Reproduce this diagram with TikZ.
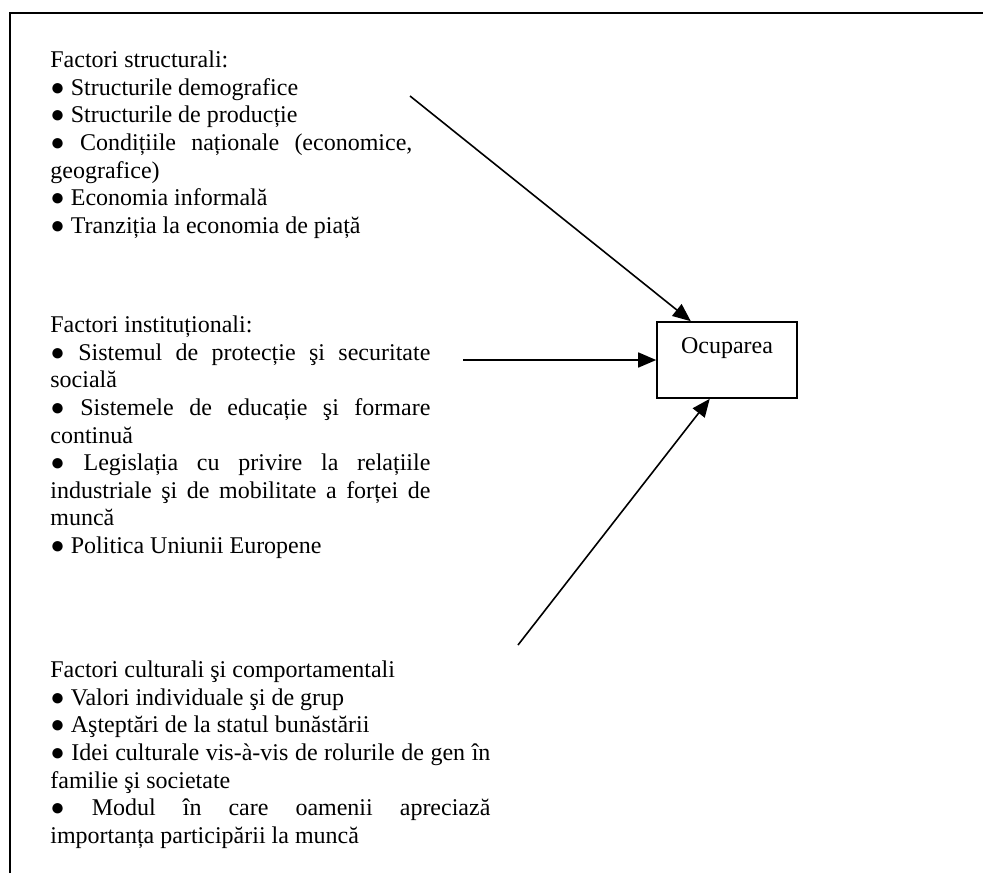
\documentclass[tikz,border=0pt]{standalone}
\usepackage{fontspec}
\setmainfont{Liberation Serif}
\usetikzlibrary{arrows.meta}

\tikzset{
  txt/.style={font={\fontsize{12}{13.8}\selectfont}},
  factori/.style={anchor=north west,inner sep=0pt,align=justify,
    font={\fontsize{12}{13.8}\selectfont\parindent=0pt\tolerance=10000\hyphenpenalty=10000}},
  arr/.style={-{Triangle[length=9pt,width=7.5pt]},line width=0.8pt}
}

\begin{document}
\begin{tikzpicture}[x=0.5pt,y=-0.5pt]
  \useasboundingbox (0,0) rectangle (983,873);
  % open frame, top and left side only
  \draw[line width=1.1pt] (10,873) -- (10,13) -- (983,13);

  \node[factori,text width=181pt] (struct) at (50,48) {\strut Factori structurali:\par
    ● Structurile demografice\par
    ● Structurile de producție\par
    ● Condițiile naționale (economice,\linebreak geografice)\par
    ● Economia informală\par
    ● Tranziția la economia de piață};
  \node[factori,text width=190pt] (inst) at (50,313) {\strut Factori instituționali:\par
    ● Sistemul de protecție şi securitate\linebreak socială\par
    ● Sistemele de educație şi formare\linebreak continuă\par
    ● Legislația cu privire la relațiile\linebreak industriale şi de mobilitate a forței de\linebreak muncă\par
    ● Politica Uniunii Europene};
  \node[factori,text width=220pt] (cult) at (50,658) {\strut Factori culturali şi comportamentali\par
    ● Valori individuale şi de grup\par
    ● Aşteptări de la statul bunăstării\par
    ● Idei culturale vis-à-vis de rolurile de gen în\linebreak familie şi societate\par
    ● Modul în care oamenii apreciază\linebreak importanța participării la muncă};

  \node[txt,draw,line width=0.8pt,inner sep=0pt,minimum width=70pt,
    text height=15.5pt,text depth=22.5pt] (ocup) at (727,360) {Ocuparea};

  \coordinate (s1) at (410,96);
  \coordinate (s2) at (463,360);
  \coordinate (s3) at (518,645);
  \draw[arr] (s1) -- (ocup.133.5);
  \draw[arr] (s2) -- (ocup.west);
  \draw[arr] (s3) -- (ocup.246);
\end{tikzpicture}
\end{document}
